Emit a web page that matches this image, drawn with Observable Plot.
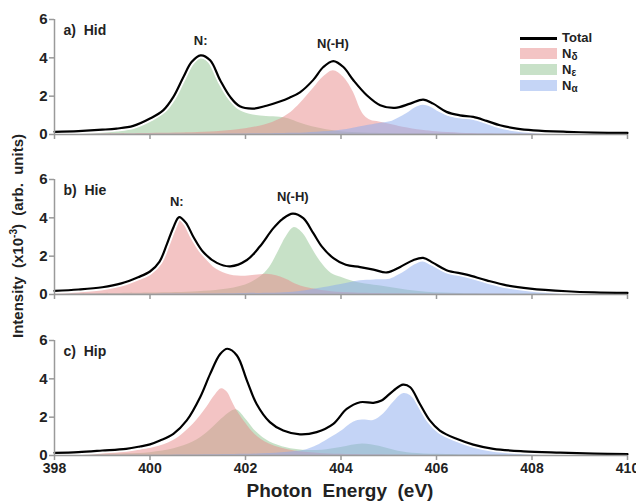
<!DOCTYPE html>
<html><head><meta charset="utf-8">
<script src="https://cdn.jsdelivr.net/npm/d3@7"></script>
<script src="https://cdn.jsdelivr.net/npm/@observablehq/plot@0.6"></script>
<style>
body{margin:0;background:#fff;}
#wrap{position:relative;width:636px;height:502px;overflow:hidden;font-family:"Liberation Sans",Arial,sans-serif;font-weight:bold;color:#222;}
.panel{position:absolute;left:0;}
.ytitle{position:absolute;left:17px;top:236px;transform:translate(-50%,-50%) rotate(-90deg);white-space:pre;font-size:15px;}
.ytitle sup{font-size:10px;}
.xtitle{position:absolute;left:340px;top:480px;transform:translateX(-50%);white-space:pre;font-size:19px;}
.lg{position:absolute;font-size:13px;line-height:14px;}
.lg sub{font-size:10px;vertical-align:-2px;}
.sw{position:absolute;width:37px;height:11px;}
</style></head><body><div id="wrap"></div>
<script>
// ---- data (photon energy eV, intensity x10^-3) ----
const xTicks = [398, 400, 402, 404, 406, 408, 410];
const yTicks = [0, 2, 4, 6];
const seriesNames = ["Total", "N\u03b4", "N\u03b5", "N\u03b1"];
const panelLabels = ["a)\u00a0\u00a0Hid", "b)\u00a0\u00a0Hie", "c)\u00a0\u00a0Hip"];

const hidTotal = [[398,0.14],[398.5,0.18],[399,0.25],[399.3,0.31],[399.65,0.45],[400,0.83],[400.28,1.27],[400.49,1.96],[400.7,3.0],[400.87,3.78],[401.06,4.13],[401.26,3.87],[401.47,2.83],[401.68,1.96],[401.88,1.47],[402.16,1.35],[402.44,1.5],[402.72,1.72],[402.92,1.92],[403.14,2.2],[403.42,2.85],[403.63,3.52],[403.84,3.83],[404.05,3.52],[404.26,2.83],[404.54,2.05],[404.82,1.53],[405.13,1.39],[405.45,1.61],[405.72,1.82],[405.93,1.61],[406.21,1.18],[406.49,1.0],[406.77,0.92],[407.05,0.71],[407.33,0.48],[407.68,0.31],[408.03,0.22],[408.73,0.14],[409.3,0.1],[410,0.08]];
const hidDelta = [[398,0.02],[400,0.05],[401,0.1],[401.5,0.17],[402,0.3],[402.4,0.5],[402.72,0.8],[402.95,1.15],[403.14,1.6],[403.42,2.4],[403.63,3.0],[403.84,3.33],[404.05,3.0],[404.26,2.2],[404.4,1.35],[404.5,0.95],[404.62,0.74],[404.8,0.65],[405.0,0.55],[405.3,0.38],[405.7,0.22],[406.0,0.14],[406.5,0.07],[407,0.04],[408,0.02],[410,0.01]];
const hidEps = [[398,0.12],[399,0.22],[399.65,0.4],[400,0.72],[400.28,1.12],[400.49,1.78],[400.7,2.8],[400.87,3.55],[401.06,3.95],[401.26,3.68],[401.47,2.65],[401.68,1.75],[401.88,1.25],[402.16,1.02],[402.44,0.94],[402.72,0.9],[402.9,0.82],[403.14,0.6],[403.4,0.4],[403.7,0.25],[404.0,0.15],[404.5,0.08],[405,0.05],[406,0.03],[408,0.01],[410,0.01]];
const hidAlpha = [[398,0.01],[402,0.03],[403,0.06],[403.5,0.12],[404.0,0.22],[404.5,0.45],[404.8,0.58],[405.03,0.66],[405.2,0.85],[405.38,1.09],[405.55,1.38],[405.72,1.52],[405.9,1.4],[406.05,1.18],[406.28,0.93],[406.5,0.85],[406.77,0.83],[407.05,0.66],[407.25,0.45],[407.47,0.31],[407.8,0.2],[408.17,0.15],[409,0.07],[410,0.03]];

const hieTotal = [[398,0.19],[398.5,0.26],[399,0.38],[399.4,0.58],[399.75,0.9],[400,1.2],[400.2,1.72],[400.35,2.6],[400.49,3.5],[400.61,4.04],[400.75,3.75],[400.91,3.0],[401.12,2.2],[401.4,1.65],[401.68,1.47],[402.03,1.8],[402.3,2.5],[402.58,3.45],[402.78,3.95],[402.99,4.22],[403.21,3.98],[403.42,3.2],[403.6,2.5],[403.84,1.9],[404.1,1.55],[404.4,1.43],[404.68,1.3],[404.96,1.15],[405.24,1.44],[405.51,1.79],[405.72,1.91],[405.93,1.65],[406.21,1.27],[406.63,1.04],[407.05,0.74],[407.47,0.48],[407.96,0.31],[408.73,0.17],[409.3,0.11],[410,0.08]];
const hieDelta = [[398,0.16],[398.5,0.22],[399,0.32],[399.4,0.5],[399.75,0.8],[400,1.06],[400.2,1.58],[400.35,2.4],[400.49,3.3],[400.61,3.86],[400.75,3.55],[400.91,2.8],[401.12,2.0],[401.4,1.3],[401.68,1.02],[402.0,0.95],[402.2,1.0],[402.44,1.06],[402.65,0.98],[402.85,0.8],[403.1,0.5],[403.4,0.3],[403.8,0.15],[404.3,0.08],[405,0.04],[407,0.02],[410,0.01]];
const hieEps = [[398,0.03],[400,0.08],[401,0.15],[401.5,0.25],[402.0,0.5],[402.3,0.9],[402.5,1.4],[402.7,2.3],[402.85,3.0],[403.02,3.49],[403.2,3.2],[403.35,2.6],[403.56,1.75],[403.8,1.1],[404.0,0.9],[404.26,0.68],[404.6,0.52],[405.0,0.38],[405.4,0.22],[405.8,0.12],[406.5,0.05],[407.5,0.02],[410,0.01]];
const hieAlpha = [[398,0.01],[401,0.02],[402,0.05],[403.0,0.12],[403.5,0.3],[404.0,0.52],[404.4,0.72],[404.7,0.76],[405.03,0.8],[405.2,1.0],[405.38,1.27],[405.55,1.55],[405.72,1.7],[405.9,1.5],[406.07,1.35],[406.35,1.13],[406.63,1.0],[406.98,0.74],[407.2,0.56],[407.47,0.4],[407.96,0.22],[408.52,0.14],[409.2,0.07],[410,0.04]];

const hipTotal = [[398,0.14],[398.5,0.18],[399,0.26],[399.5,0.35],[399.79,0.47],[400,0.58],[400.21,0.78],[400.49,1.13],[400.77,1.83],[401.05,3.04],[401.26,4.26],[401.47,5.3],[401.62,5.57],[401.82,5.22],[402.03,3.91],[402.23,2.7],[402.51,1.74],[402.79,1.3],[403.14,1.1],[403.49,1.22],[403.84,1.65],[404.12,2.43],[404.4,2.78],[404.68,2.75],[404.85,2.87],[405.1,3.39],[405.3,3.7],[405.45,3.56],[405.65,2.7],[405.86,1.83],[406.07,1.3],[406.42,0.87],[406.77,0.57],[407.19,0.35],[407.82,0.22],[408.59,0.15],[409.3,0.1],[410,0.07]];
const hipDelta = [[398,0.08],[399,0.15],[399.5,0.22],[399.79,0.3],[400.07,0.4],[400.49,0.78],[400.91,1.65],[401.19,2.52],[401.35,3.1],[401.5,3.48],[401.62,3.3],[401.71,2.87],[401.82,2.35],[402.0,1.7],[402.2,1.1],[402.5,0.6],[403.0,0.25],[403.5,0.12],[404,0.06],[405,0.03],[407,0.01],[410,0.01]];
const hipEps = [[398,0.04],[399,0.07],[400,0.15],[400.5,0.35],[400.9,0.7],[401.2,1.2],[401.5,1.9],[401.7,2.3],[401.82,2.38],[402.03,1.83],[402.23,1.22],[402.51,0.7],[402.86,0.4],[403.2,0.27],[403.6,0.28],[404.0,0.42],[404.45,0.6],[404.8,0.48],[405.2,0.22],[405.6,0.1],[406.2,0.05],[407.5,0.02],[410,0.01]];
const hipAlpha = [[398,0.01],[401,0.03],[402,0.06],[402.5,0.1],[403.0,0.2],[403.28,0.3],[403.5,0.52],[403.7,0.8],[403.98,1.22],[404.26,1.74],[404.45,1.85],[404.68,1.83],[404.89,2.17],[405.1,2.78],[405.3,3.22],[405.45,3.13],[405.65,2.52],[405.86,1.83],[406.07,1.22],[406.42,0.78],[406.77,0.47],[407.47,0.26],[408.5,0.12],[409.3,0.07],[410,0.05]];

// peak annotations: [label, energy, intensity]
const hidNotes = [["N:", 401.06, 4.87], ["N(-H)", 403.83, 4.75]];
const hieNotes = [["N:", 400.56, 4.82], ["N(-H)", 402.99, 5.08]];
const hipNotes = [];

// ---- styling ----
const fillDelta = "#e88a8a", fillEps = "#90c490", fillAlpha = "#8aaaee";
const swDelta = "#f3c4c4", swEps = "#c8e1c8", swAlpha = "#c5d5f6";
const axisGray = "#9a9a9a";
const curve = "catmull-rom";

const X = d => d[0], Y = d => d[1];

function panel(total, delta, eps, alpha, notes, label, top, showX) {
  const mb = showX ? 36 : 11;
  const chart = Plot.plot({
    width: 636, height: 134 + mb + 1,
    marginLeft: 54, marginRight: 9, marginTop: 19, marginBottom: mb + 1,
    x: {domain: [398, 410], label: null},
    y: {domain: [0, 6], label: null},
    style: {fontFamily: '"Liberation Sans", Arial, sans-serif', fontWeight: "bold", fontSize: "15px", color: "#222", background: "transparent", overflow: "visible"},
    marks: [
      Plot.areaY(eps, {x: X, y: Y, fill: fillEps, fillOpacity: 0.5, curve}),
      Plot.areaY(delta, {x: X, y: Y, fill: fillDelta, fillOpacity: 0.5, curve}),
      Plot.areaY(alpha, {x: X, y: Y, fill: fillAlpha, fillOpacity: 0.5, curve}),
      Plot.line(total, {x: X, y: Y, stroke: "white", strokeWidth: 6, curve}),
      Plot.line(total, {x: X, y: Y, stroke: "black", strokeWidth: 2.2, curve}),
      Plot.ruleY([0], {stroke: axisGray, strokeWidth: 1.5}),
      Plot.ruleX([398], {stroke: axisGray, strokeWidth: 1.5}),
      Plot.axisY({ticks: yTicks, tickSize: 5, tickPadding: 2, stroke: axisGray, strokeWidth: 1.5, fontSize: 15, label: null,
                  tickFormat: d => String(d)}),
      Plot.axisX({ticks: xTicks, tickSize: 5, tickPadding: 3, stroke: axisGray, strokeWidth: 1.5, fontSize: 14, label: null,
                  tickFormat: showX ? (d => String(d)) : (() => "")}),
      Plot.text([label], {frameAnchor: "top-left", dx: 9, dy: 11, lineAnchor: "middle", textAnchor: "start", text: d => d, fontSize: 14}),
      Plot.text(notes, {x: d => d[1], y: d => d[2], text: d => d[0], fontSize: 13, lineAnchor: "middle"})
    ]
  });
  chart.classList.add("panel");
  chart.style.top = top + "px";
  return chart;
}

const wrap = document.getElementById("wrap");
wrap.appendChild(panel(hidTotal, hidDelta, hidEps, hidAlpha, hidNotes, panelLabels[0], 0, false));
wrap.appendChild(panel(hieTotal, hieDelta, hieEps, hieAlpha, hieNotes, panelLabels[1], 160, false));
wrap.appendChild(panel(hipTotal, hipDelta, hipEps, hipAlpha, hipNotes, panelLabels[2], 321, true));

// axis titles
const yt = document.createElement("div");
yt.className = "ytitle";
yt.innerHTML = "Intensity  (x10<sup>-3</sup>)  (arb.  units)";
wrap.appendChild(yt);
const xt = document.createElement("div");
xt.className = "xtitle";
xt.textContent = "Photon  Energy  (eV)";
wrap.appendChild(xt);

// legend
const lgLine = document.createElement("div");
lgLine.style.cssText = "position:absolute;left:520px;top:37px;width:37px;height:2.5px;background:#000;";
wrap.appendChild(lgLine);
const swColors = [swDelta, swEps, swAlpha];
const lgTops = [31, 47, 63, 79];
seriesNames.forEach((name, i) => {
  if (i > 0) {
    const s = document.createElement("div");
    s.className = "sw";
    s.style.left = "520px"; s.style.top = (lgTops[i] + 1) + "px"; s.style.background = swColors[i - 1];
    wrap.appendChild(s);
  }
  const t = document.createElement("div");
  t.className = "lg";
  t.style.left = "562px"; t.style.top = lgTops[i] + "px";
  t.innerHTML = i === 0 ? name : name[0] + "<sub>" + name.slice(1) + "</sub>";
  wrap.appendChild(t);
});
</script></body></html>
